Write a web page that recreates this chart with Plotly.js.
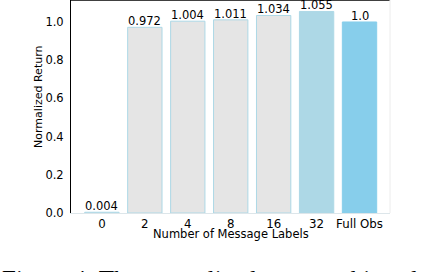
<!DOCTYPE html>
<html>
<head>
<meta charset="utf-8">
<script src="https://cdn.plot.ly/plotly-3.0.1.min.js"></script>
<style>html,body{margin:0;padding:0;background:#fff;}#chart{width:422px;height:272px;}</style>
</head>
<body>
<div id="chart"></div>
<script>
const categories = ["0", "2", "4", "8", "16", "32", "Full Obs"];
const values = [0.004, 0.972, 1.004, 1.011, 1.034, 1.055, 1.0];
const valueLabels = ["0.004", "0.972", "1.004", "1.011", "1.034", "1.055", "1.0"];
const barColors = ["#e5e5e5", "#e5e5e5", "#e5e5e5", "#e5e5e5", "#e5e5e5", "#add8e6", "#87ceeb"];
const edgeColors = ["#add8e6", "#add8e6", "#add8e6", "#add8e6", "#add8e6", "#add8e6", "#87ceeb"];
const yTicks = [0, 0.2, 0.4, 0.6, 0.8, 1.0];
const yTickText = ["0.0", "0.2", "0.4", "0.6", "0.8", "1.0"];
const xTitle = "Number of Message Labels";
const yTitle = "Normalized Return";
const caption = "Figure 4: The normalized return achieved by";

const font = "DejaVu Sans, sans-serif";
const trace = {
  type: "bar",
  x: categories,
  y: values,
  width: 0.8,
  marker: {color: barColors, line: {color: edgeColors, width: 1}},
  hoverinfo: "none"
};

// category axis: annotations are placed by category index
const labelAnns = categories.map((c, i) => ({
  x: i, y: values[i], xref: "x", yref: "y",
  text: valueLabels[i], showarrow: false,
  xanchor: "center", yanchor: "bottom", yshift: -3,
  font: {family: font, size: 11.5, color: "#000"}
}));

const layout = {
  width: 422, height: 272,
  margin: {l: 71, r: 32, t: 0, b: 59, pad: 0},
  paper_bgcolor: "#fff", plot_bgcolor: "#fff",
  showlegend: false,
  xaxis: {
    type: "category",
    range: [-0.72, 6.71],
    showgrid: false, zeroline: false,
    showline: true, linecolor: "#dde6ea", linewidth: 1,
    ticks: "",
    tickfont: {family: font, size: 11.8, color: "#000"}
  },
  yaxis: {
    range: [0, 1.115],
    tickvals: yTicks, ticktext: yTickText,
    showgrid: false, zeroline: false,
    showline: true, linecolor: "#000", linewidth: 1,
    ticks: "outside", ticklen: 4, tickcolor: "#fff",
    tickfont: {family: font, size: 11.5, color: "#000"}
  },
  shapes: [
    {type: "line", xref: "paper", yref: "paper", x0: 0, x1: 1, y0: 1, y1: 1, line: {color: "#000", width: 1.5}},
    {type: "line", xref: "paper", yref: "paper", x0: 1, x1: 1, y0: 0, y1: 1, line: {color: "#ececec", width: 1}}
  ],
  annotations: labelAnns.concat([
    {text: xTitle, xref: "paper", yref: "paper", x: 0.5, y: 0, xanchor: "center", yanchor: "middle",
     yshift: -21, showarrow: false, font: {family: font, size: 11.5, color: "#000"}},
    {text: yTitle, xref: "paper", yref: "paper", x: 0, y: 0.545, xanchor: "center", yanchor: "middle",
     xshift: -32, textangle: -90, showarrow: false, font: {family: font, size: 11, color: "#000"}},
    {text: caption, xref: "paper", yref: "paper", x: 0, y: 0,
     xanchor: "left", yanchor: "top", xshift: -71, yshift: -51, showarrow: false,
     font: {family: "Liberation Serif, serif", size: 25, color: "#000"}}
  ])
};

Plotly.newPlot("chart", [trace], layout, {staticPlot: true, displayModeBar: false});
</script>
</body>
</html>
